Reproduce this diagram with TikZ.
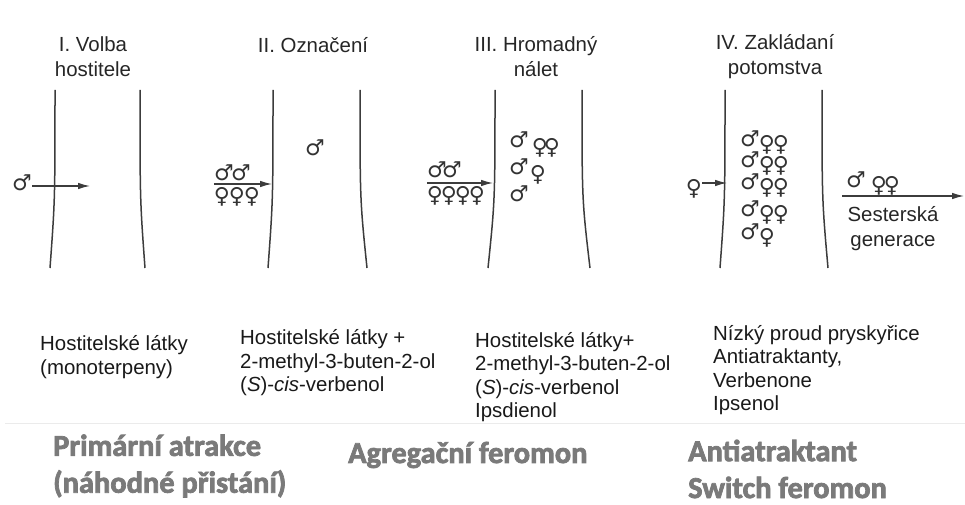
\documentclass[tikz,border=0pt]{standalone}
\usepackage{fontspec}
\setmainfont{Liberation Sans}
\newfontfamily\symfont{DejaVu Sans}
\newfontfamily\calfont{Carlito}[BoldFeatures={FakeBold=2.5}]
\usetikzlibrary{arrows.meta}
\definecolor{wallgray}{HTML}{3C3C3C}
\definecolor{kindgray}{HTML}{7A7A7A}
\newcommand{\Ma}{{\symfont\char"2642}}
\newcommand{\Fe}{{\symfont\char"2640}}

\begin{document}
\begin{tikzpicture}[x=1bp, y=-1bp,
  wall/.style={line width=1.5bp, wallgray},
  flight/.style={-{Latex[length=12bp,width=6.5bp]}, line width=1.2bp, wallgray},
  sym/.style={inner sep=0pt, text=black!80, font=\fontsize{22}{22}\selectfont},
  phase/.style={align=center, text=black!85, font=\fontsize{20.5}{25}\selectfont},
  chem/.style={align=left, anchor=west, inner sep=0pt, text=black!90, font=\fontsize{20.5}{23.5}\selectfont},
  kind/.style={align=left, anchor=west, inner sep=0pt, text=kindgray, font=\calfont\bfseries\fontsize{30.5}{37}\selectfont}
]
\useasboundingbox (0,0) rectangle (965,505);

% stem walls
\foreach \a/\b in {55/50, 140/145, 273/268, 360/367, 495/488, 582/590, 725/720, 822/828}
  \draw[wall] (\a,90) .. controls (\a,200) .. (\b,268);

% phase titles
\node[phase] (t1) at (93,57) {I. Volba\\hostitele};
\node[phase] (t2) at (313,45) {II. Označení};
\node[phase] (t3) at (536,57) {III. Hromadný\\nálet};
\node[phase] (t4) at (775,57) {IV. Zakládaní\\potomstva};

% I. choosing the host
\node[sym] (m1) at (22,183) {\Ma};
\coordinate (w1) at (90,186);
\draw[flight] (m1.east |- w1) -- (w1);

% II. marking
\node[sym] (m21) at (224,173) {\Ma};
\node[sym] (m22) at (241,173) {\Ma};
\foreach \x [count=\i] in {222,237,252}
  \node[sym] (f2\i) at (\x,197) {\Fe};
\node[sym] (m2in) at (315,148) {\Ma};
\coordinate (w2) at (272,184);
\draw[flight] (f21.west |- w2) -- (w2);

% III. mass attack
\node[sym] (m31) at (437,170) {\Ma};
\node[sym] (m32) at (452,170) {\Ma};
\foreach \x [count=\i] in {435,449,463,477}
  \node[sym] (f3\i) at (\x,196) {\Fe};
\coordinate (w3) at (493,183);
\draw[flight] (f31.west |- w3) -- (w3);
\node[sym] (m3a) at (519,140) {\Ma};
\node[sym] (f3a) at (540,148) {\Fe};
\node[sym] (f3b) at (552,148) {\Fe};
\node[sym] (m3b) at (519,167) {\Ma};
\node[sym] (f3c) at (538,175) {\Fe};
\node[sym] (m3c) at (519,194) {\Ma};

% IV. brood
\node[sym] (f4) at (694,189) {\Fe};
\coordinate (w4) at (727,183);
\draw[flight] (f4.east |- w4) -- (w4);
\foreach \y [count=\i] in {139,160,182,209}{
  \node[sym] (m4\i) at (750,\y) {\Ma};
  \node[sym] (fa4\i) at (767,\y+6) {\Fe};
  \node[sym] (fb4\i) at (781,\y+6) {\Fe};
}
\node[sym] (m45) at (750,232) {\Ma};
\node[sym] (fa45) at (767,238) {\Fe};

% sister generation
\coordinate (out) at (964,196);
\draw[flight] (842,196) coordinate (s5) -- (out);
\node[sym] (m5) at (856,180) {\Ma};
\node[sym] (fa5) at (879,186) {\Fe};
\node[sym] (fb5) at (892,186) {\Fe};
\node[phase] (sis) at (893,229) {Sesterská\\generace};

% compounds
\node[chem] (c1) at (40,357) {Hostitelské látky\\(monoterpeny)};
\node[chem] (c2) at (240,363) {Hostitelské látky +\\2-methyl-3-buten-2-ol\\(\textit{S})-\textit{cis}-verbenol};
\node[chem] (c3) at (475,377) {Hostitelské látky+\\2-methyl-3-buten-2-ol\\(\textit{S})-\textit{cis}-verbenol\\Ipsdienol};
\node[chem] (c4) at (713,370) {Nízký proud pryskyřice\\Antiatraktanty,\\Verbenone\\Ipsenol};

\draw[black!8, line width=1bp] (5,423) -- (965,423);

% kind of signal
\node[kind] (k1) at (53,466) {Primární atrakce\\(náhodné přistání)};
\node[kind] (k2) at (348,455) {Agregační feromon};
\node[kind] (k3) at (688,469) {Antiatraktant\\Switch feromon};
\end{tikzpicture}
\end{document}
